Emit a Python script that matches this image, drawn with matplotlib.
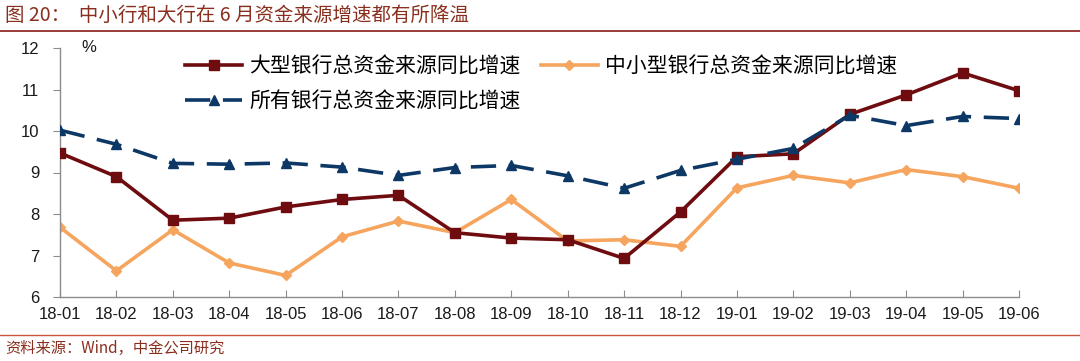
import matplotlib
matplotlib.use("Agg")
import matplotlib.pyplot as plt
from matplotlib.lines import Line2D

plt.rcParams["font.family"] = ["Noto Sans CJK SC", "DejaVu Sans"]

# ── Data ─────────────────────────────────────────────────────────
months = ["18-01", "18-02", "18-03", "18-04", "18-05", "18-06", "18-07", "18-08", "18-09",
          "18-10", "18-11", "18-12", "19-01", "19-02", "19-03", "19-04", "19-05", "19-06"]
large_banks = [9.47, 8.90, 7.85, 7.90, 8.17, 8.35, 8.45, 7.55, 7.42,
               7.38, 6.93, 8.05, 9.38, 9.45, 10.40, 10.87, 11.40, 10.97]
small_banks = [7.68, 6.63, 7.62, 6.82, 6.52, 7.45, 7.83, 7.55, 8.35,
               7.35, 7.38, 7.22, 8.63, 8.93, 8.75, 9.07, 8.90, 8.62]
all_banks = [10.02, 9.68, 9.22, 9.20, 9.23, 9.13, 8.93, 9.12, 9.17,
             8.92, 8.62, 9.05, 9.32, 9.58, 10.38, 10.13, 10.35, 10.30]
yticks = [6, 7, 8, 9, 10, 11, 12]

RED = "#6e0c10"
ORANGE = "#f6a55e"
BLUE = "#0d3866"
TXT = "#8a2e1e"

fig = plt.figure(figsize=(10.8, 3.61), dpi=100)
ax = fig.add_axes([60 / 1080, 1 - 297 / 361, (1019 - 60) / 1080, (297 - 48) / 361])

x = list(range(len(months)))
ax.plot(x, large_banks, color=RED, lw=2.6, marker="s", ms=7.5, label="大型银行总资金来源同比增速", zorder=3)
ax.plot(x, small_banks, color=ORANGE, lw=2.6, marker="D", ms=5, label="中小型银行总资金来源同比增速", zorder=2)
ax.plot(x, all_banks, color=BLUE, lw=2.6, marker="^", ms=7.5, dashes=(7, 3.5),
        label="所有银行总资金来源同比增速", zorder=4)

ax.set_xlim(0, len(months) - 1)
ax.set_ylim(6, 12)
ax.set_yticks(yticks)
ax.set_xticks(x)
ax.set_xticklabels(months)
for sp in ["top", "right"]:
    ax.spines[sp].set_visible(False)
for sp in ["left", "bottom"]:
    ax.spines[sp].set_color("#8c8c8c")
    ax.spines[sp].set_linewidth(1.0)
ax.tick_params(axis="y", direction="out", length=5, color="#8c8c8c", pad=10)
ax.tick_params(axis="x", direction="in", length=5, color="#8c8c8c", pad=7)
for lab in ax.get_xticklabels() + ax.get_yticklabels():
    lab.set_fontfamily("Liberation Sans")
    lab.set_fontsize(12)
    lab.set_color("#1a1a1a")

ax.text(0.022, 1.0, "%", transform=ax.transAxes, fontsize=12, family="Liberation Sans",
        ha="left", va="center", color="#1a1a1a")

h = ax.get_legend_handles_labels()
handles = [h[0][0], h[0][2], h[0][1]]
labels = [h[1][0], h[1][2], h[1][1]]
ax.legend(handles, labels, ncol=2, loc="upper left", bbox_to_anchor=(0.111, 1.045),
          frameon=False, fontsize=15, handlelength=2.75, handletextpad=0.33,
          columnspacing=0.95, labelspacing=0.62)

# header / footer decoration
fig.add_artist(Line2D([0, 1], [1 - 31 / 361] * 2, color="#8b1a1a", lw=1.2))
fig.add_artist(Line2D([0, 1], [1 - 335 / 361] * 2, color="#c8553d", lw=1.0))
fig.text(5 / 1080, 1 - 15 / 361, "图 20：  中小行和大行在 6 月资金来源增速都有所降温",
         fontsize=14, color=TXT, ha="left", va="center", style="italic")
fig.text(5 / 1080, 1 - 348 / 361, "资料来源：Wind，中金公司研究",
         fontsize=11, color=TXT, ha="left", va="center", style="italic")

fig.savefig("out.png", dpi=100)
